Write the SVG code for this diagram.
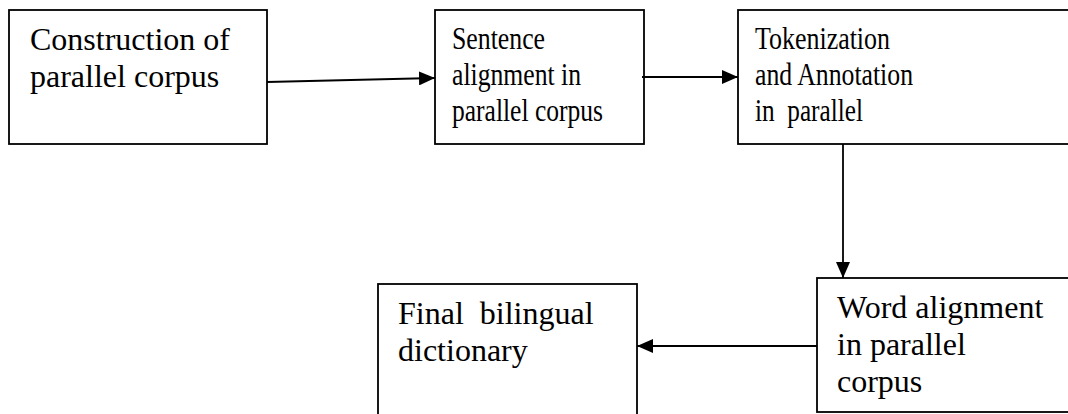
<svg xmlns="http://www.w3.org/2000/svg" width="1068" height="414" viewBox="0 0 1068 414">
  <style>
    .box { fill: #ffffff; stroke: #000000; stroke-width: 1.8; }
    .label { font-family: "Liberation Serif", "Times New Roman", serif; font-size: 32px; fill: #000000; }
    .edge { fill: none; stroke: #000000; stroke-width: 1.8; }
  </style>
  <defs>
    <marker id="arrow" markerWidth="16" markerHeight="14" refX="16" refY="7" orient="auto" markerUnits="userSpaceOnUse">
      <path d="M0,0 L16,7 L0,14 Z" fill="#000000"/>
    </marker>
  </defs>
  <rect width="1068" height="414" fill="#ffffff"/>

  <g id="node-construction">
    <rect class="box" x="9" y="10" width="258" height="134"/>
    <text class="label" x="30" y="50">Construction of</text>
    <text class="label" x="30" y="87">parallel corpus</text>
  </g>

  <!-- narrow boxes: lines are set condensed to fit -->
  <g id="node-sentence-alignment">
    <rect class="box" x="435" y="10" width="209" height="134"/>
    <text class="label" x="452" y="49" textLength="93" lengthAdjust="spacingAndGlyphs">Sentence</text>
    <text class="label" x="452" y="85" textLength="129" lengthAdjust="spacingAndGlyphs">alignment in</text>
    <text class="label" x="452" y="121" textLength="151" lengthAdjust="spacingAndGlyphs">parallel corpus</text>
  </g>

  <g id="node-tokenization">
    <rect class="box" x="738" y="10" width="340" height="134"/>
    <text class="label" x="755" y="49" textLength="135" lengthAdjust="spacingAndGlyphs">Tokenization</text>
    <text class="label" x="755" y="85" textLength="158" lengthAdjust="spacingAndGlyphs">and Annotation</text>
    <text class="label" x="755" y="121" textLength="108" lengthAdjust="spacingAndGlyphs" xml:space="preserve">in  parallel</text>
  </g>

  <g id="node-word-alignment">
    <rect class="box" x="817" y="278" width="261" height="134"/>
    <text class="label" x="837" y="318">Word alignment</text>
    <text class="label" x="837" y="355">in parallel</text>
    <text class="label" x="837" y="392">corpus</text>
  </g>

  <g id="node-dictionary">
    <rect class="box" x="378" y="284" width="259" height="140"/>
    <text class="label" x="398" y="324" xml:space="preserve">Final  bilingual</text>
    <text class="label" x="398" y="361">dictionary</text>
  </g>

  <g id="connectors">
    <line class="edge" x1="267" y1="82" x2="435" y2="78" marker-end="url(#arrow)"/>
    <line class="edge" x1="642" y1="77" x2="738" y2="77" marker-end="url(#arrow)"/>
    <line class="edge" x1="843" y1="144" x2="843" y2="278" marker-end="url(#arrow)"/>
    <line class="edge" x1="817" y1="346" x2="637" y2="346" marker-end="url(#arrow)"/>
  </g>
</svg>
